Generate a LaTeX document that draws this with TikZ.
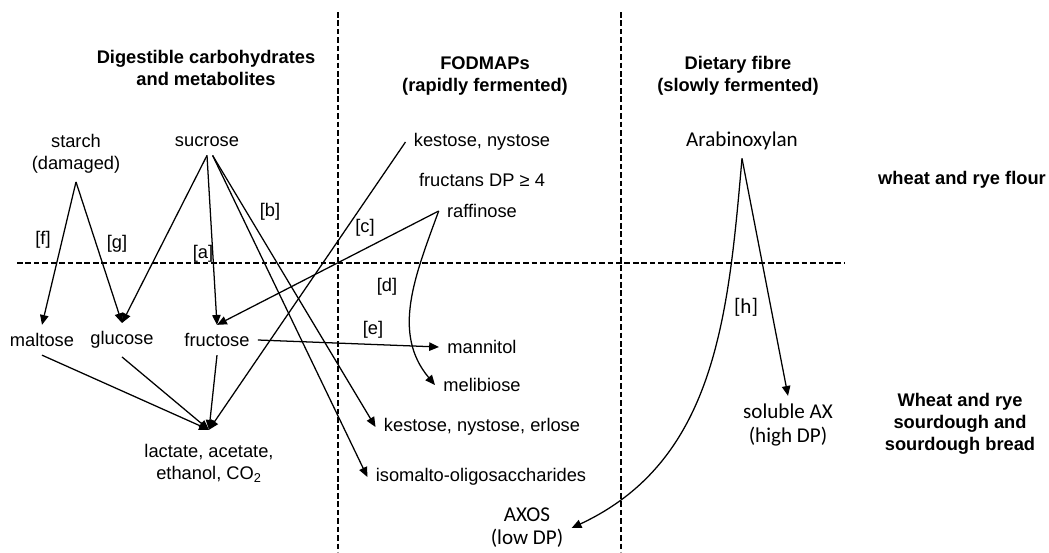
\documentclass[tikz,border=0pt]{standalone}
\usepackage{fontspec}
\setmainfont{Liberation Sans}
\newfontfamily\calfont{Carlito}
\usetikzlibrary{arrows.meta}
\tikzstyle{spec} = [inner sep=3pt, outer sep=3pt, align=center, font=\fontsize{13}{15.6}\selectfont]
\tikzstyle{fibre} = [spec, font=\calfont\fontsize{15}{16.5}\selectfont]
\tikzstyle{head} = [align=center, font=\bfseries\fontsize{13}{15.6}\selectfont]
\tikzstyle{lab} = [inner sep=1pt, font=\fontsize{13}{15.6}\selectfont]
\tikzstyle{sep} = [dash pattern=on 4pt off 2pt, line width=1.4pt, -]

\begin{document}
\begin{tikzpicture}[->,>={Triangle[length=7pt,width=6pt]},x=0.025cm,y=-0.025cm,line width=0.9pt]
\useasboundingbox (0,0) rectangle (1049,552);

% separators
\draw[sep] (17,263) -- (845,263);
\draw[sep] (338,12) -- (338,552);
\draw[sep] (621,12) -- (621,552);

% column and row heads
\node (DigHead) [head] at (206,68) {Digestible carbohydrates\\and metabolites};
\node (FodHead) [head] at (485,76) {FODMAPs\\(rapidly fermented)};
\node (FibHead) [head] at (738,76) {Dietary fibre\\(slowly fermented)};
\node (Flour) [head] at (962,180) {wheat and rye flour};
\node (Sourdough) [head] at (960,424) {Wheat and rye\\sourdough and\\sourdough bread};

% flour
\node (Starch) [spec] at (76,154) {starch\\(damaged)};
\node (Sucrose) [spec] at (207,142) {sucrose};
\node (KestoseA) [spec] at (482,142) {kestose, nystose};
\node (Fructans) [spec] at (482,180) {fructans DP ≥ 4};
\node (Raffinose) [spec] at (482,211) {raffinose};
\node (Arabinoxylan) [fibre] at (742,141) {Arabinoxylan};

% sourdough and bread
\node (Maltose) [spec] at (42,340) {maltose};
\node (Glucose) [spec] at (122,340) {glucose};
\node (Fructose) [spec] at (217,340) {fructose};
\node (Mannitol) [spec] at (482,347) {mannitol};
\node (Melibiose) [spec] at (482,385) {melibiose};
\node (Lactate) [spec, outer sep=7pt] at (209,463) {lactate, acetate,\\ethanol, CO\textsubscript{2}};
\node (KestoseB) [spec] at (482,427) {kestose, nystose, erlose};
\node (Isomalto) [spec] at (481,477) {isomalto-oligosaccharides};
\node (SolubleAX) [fibre] at (788,425) {soluble AX\\(high DP)};
\node (AXOS) [fibre] at (527,528) {AXOS\\(low DP)};

% pathways
\node (La) [lab] at (203,254) {[a]};
\node (Lb) [lab] at (270,212) {[b]};
\node (Lc) [lab] at (365,228) {[c]};
\node (Ld) [lab] at (387,287) {[d]};
\node (Le) [lab] at (373,330) {[e]};
\node (Lf) [lab] at (43,240) {[f]};
\node (Lg) [lab] at (117,244) {[g]};
\node (Lh) [lab, font=\calfont\fontsize{15}{16.5}\selectfont] at (746,307) {[h]};

\path
  (Starch.south) edge (Maltose.north)
  (Starch.south) edge (Glucose.north)
  (Sucrose.south) edge (Glucose.north)
  (Sucrose.south) edge (Fructose.north)
  ([xshift=4pt]Sucrose.south) edge (KestoseB.west)
  ([xshift=4pt]Sucrose.south) edge (Isomalto.west)
  (KestoseA.west) edge (Lactate.north)
  (Raffinose.west) edge (Fructose.north)
  (Raffinose.west) edge[out=-110, in=130] (Melibiose.west)
  (Fructose.east) edge (Mannitol.west)
  (Maltose.south) edge (Lactate.north)
  (Glucose.south) edge (Lactate.north)
  (Fructose.south) edge (Lactate.north)
  (Arabinoxylan.south) edge (SolubleAX.north)
  (Arabinoxylan.south) edge[out=-95, in=25] (AXOS.east);
\end{tikzpicture}
\end{document}
